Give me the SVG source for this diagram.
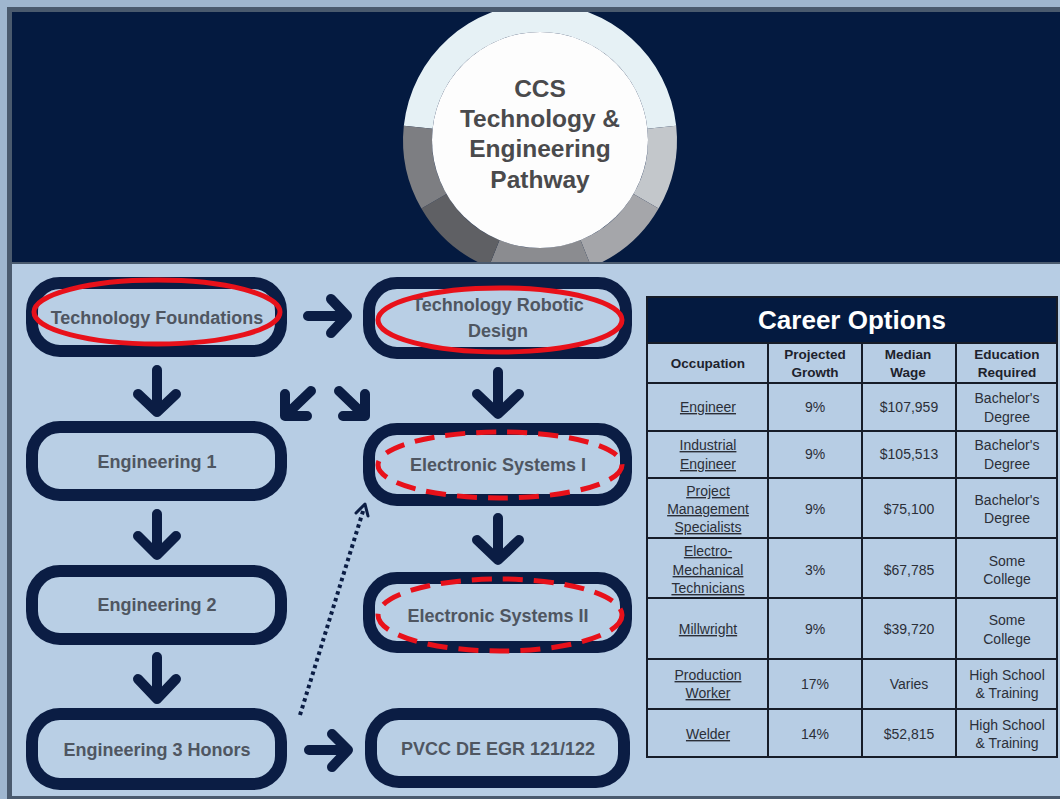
<svg xmlns="http://www.w3.org/2000/svg" width="1060" height="799" viewBox="0 0 1060 799">
<style>
.node{fill:#b9cfe5;stroke:#0b1d44;stroke-width:12}
.nt{font-family:"Liberation Sans",Arial,sans-serif;font-weight:bold;font-size:18px;fill:#4f5661;text-anchor:middle}
.arw{fill:none;stroke:#0b1d44;stroke-width:10;stroke-linecap:round;stroke-linejoin:round}
.red{fill:none;stroke:#e8111a;stroke-width:5}
.dash{stroke-dasharray:20 11}
.th{font-family:"Liberation Sans",Arial,sans-serif;font-weight:bold;font-size:13.5px;fill:#1d222c;text-anchor:middle}
.td{font-family:"Liberation Sans",Arial,sans-serif;font-size:14px;fill:#2b2f38;text-anchor:middle}
.lk{text-decoration:underline}
.grid{stroke:#161c28;stroke-width:2;fill:none}
.ct{font-family:"Liberation Sans",Arial,sans-serif;font-weight:bold;font-size:24.5px;fill:#4a4a4c;text-anchor:middle}
</style>
<defs>
<clipPath id="hdr"><rect x="12" y="12" width="1048" height="250"/></clipPath>
</defs>
<rect x="0" y="0" width="1060" height="799" fill="#9fb6cf"/>
<rect x="7" y="7" width="1053" height="792" fill="#4a5a6e"/>
<rect x="12" y="12" width="1048" height="250" fill="#041a40"/>
<rect x="12" y="264" width="1048" height="532" fill="#b7cde4"/>

<g id="title" clip-path="url(#hdr)">
<path d="M403.8,125.7 A137,137 0 0 1 676.2,125.7 L647.4,128.7 A108,108 0 0 0 432.6,128.7 Z" fill="#e6f1f5"/>
<path d="M676.2,125.7 A137,137 0 0 1 658.6,208.5 L633.5,194 A108,108 0 0 0 647.4,128.7 Z" fill="#c3c7cb"/>
<path d="M658.6,208.5 A137,137 0 0 1 591.3,267 L580.5,240.1 A108,108 0 0 0 633.5,194 Z" fill="#a5a6aa"/>
<path d="M591.3,267 A137,137 0 0 1 488.7,267 L499.5,240.1 A108,108 0 0 0 580.5,240.1 Z" fill="#8b8c90"/>
<path d="M488.7,267 A137,137 0 0 1 421.4,208.5 L446.5,194 A108,108 0 0 0 499.5,240.1 Z" fill="#5f6064"/>
<path d="M421.4,208.5 A137,137 0 0 1 403.8,125.7 L432.6,128.7 A108,108 0 0 0 446.5,194 Z" fill="#7d7e82"/>
<circle cx="540" cy="140" r="108" fill="#fdfdfd"/>
<text class="ct" x="540" y="97">CCS</text>
<text class="ct" x="540" y="127">Technology &amp;</text>
<text class="ct" x="540" y="157">Engineering</text>
<text class="ct" x="540" y="188">Pathway</text>
</g>

<g id="connectors">
<path class="arw" d="M308,316 H345 M331,299 L347,316 L331,333"/>
<path class="arw" d="M157,370 V410 M138,394 L157,412 L176,394"/>
<path class="arw" d="M311,391 L286,415 M285,394 L285,416 L307,416"/>
<path class="arw" d="M339,391 L364,415 M365,394 L365,416 L343,416"/>
<path class="arw" d="M498,372 V412 M477,394 L498,414 L519,394"/>
<path class="arw" d="M157,514 V553 M138,536 L157,555 L176,536"/>
<path class="arw" d="M498,518 V558 M477,540 L498,560 L519,540"/>
<path class="arw" d="M157,657 V698 M138,679 L157,699 L176,679"/>
<path class="arw" d="M309,750 H346 M332,734 L348,750 L332,767"/>
<path d="M300,715 L364,508" fill="none" stroke="#0b1d44" stroke-width="4" stroke-dasharray="3.5 3.5"/>
<path d="M356,513 L365,504 L368,516" fill="none" stroke="#0b1d44" stroke-width="3" stroke-linecap="round" stroke-linejoin="round"/>
</g>

<g id="n-techfound">
<rect class="node" x="32" y="283" width="249" height="68" rx="28"/>
<text class="nt" x="157" y="324">Technology Foundations</text>
<ellipse class="red" cx="157" cy="312" rx="123" ry="32"/>
</g>
<g id="n-eng1">
<rect class="node" x="32" y="427" width="249" height="68" rx="28"/>
<text class="nt" x="157" y="468">Engineering 1</text>
</g>
<g id="n-eng2">
<rect class="node" x="32" y="571" width="249" height="68" rx="28"/>
<text class="nt" x="157" y="611">Engineering 2</text>
</g>
<g id="n-eng3">
<rect class="node" x="32" y="714" width="249" height="70" rx="28"/>
<text class="nt" x="157" y="756">Engineering 3 Honors</text>
</g>
<g id="n-robotic">
<rect class="node" x="369" y="283" width="257" height="70" rx="28"/>
<text class="nt" x="498" y="311">Technology Robotic</text>
<text class="nt" x="498" y="337">Design</text>
<ellipse class="red" cx="500" cy="320" rx="122" ry="32"/>
</g>
<g id="n-es1">
<rect class="node" x="369" y="429" width="257" height="71" rx="28"/>
<text class="nt" x="498" y="471">Electronic Systems I</text>
<ellipse class="red dash" cx="500" cy="465" rx="122" ry="33"/>
</g>
<g id="n-es2">
<rect class="node" x="369" y="578" width="257" height="69" rx="28"/>
<text class="nt" x="498" y="622">Electronic Systems II</text>
<ellipse class="red dash" cx="500" cy="615" rx="122" ry="36"/>
</g>
<g id="n-pvcc">
<rect class="node" x="371" y="714" width="253" height="68" rx="28"/>
<text class="nt" x="498" y="755">PVCC DE EGR 121/122</text>
</g>

<g id="career-table">
<rect x="647" y="297" width="410" height="46" fill="#041a40"/>
<text x="852" y="329" font-family="Liberation Sans, Arial, sans-serif" font-weight="bold" font-size="26" fill="#ffffff" text-anchor="middle">Career Options</text>
<rect class="grid" x="647" y="297" width="410" height="460"/>
<path class="grid" d="M647,343 H1057 M647,383 H1057 M647,431 H1057 M647,478 H1057 M647,538 H1057 M647,598 H1057 M647,659 H1057 M647,709 H1057 M768,343 V757 M862,343 V757 M956,343 V757"/>
<text class="th" x="708" y="368">Occupation</text>
<text class="th" x="815" y="359">Projected</text><text class="th" x="815" y="377">Growth</text>
<text class="th" x="908" y="359">Median</text><text class="th" x="908" y="377">Wage</text>
<text class="th" x="1007" y="359">Education</text><text class="th" x="1007" y="377">Required</text>

<text class="td lk" x="708" y="412">Engineer</text>
<text class="td" x="815" y="412">9%</text>
<text class="td" x="909" y="412">$107,959</text>
<text class="td" x="1007" y="403">Bachelor's</text><text class="td" x="1007" y="422">Degree</text>

<text class="td lk" x="708" y="450">Industrial</text><text class="td lk" x="708" y="469">Engineer</text>
<text class="td" x="815" y="459">9%</text>
<text class="td" x="909" y="459">$105,513</text>
<text class="td" x="1007" y="450">Bachelor's</text><text class="td" x="1007" y="469">Degree</text>

<text class="td lk" x="708" y="496">Project</text><text class="td lk" x="708" y="514">Management</text><text class="td lk" x="708" y="532">Specialists</text>
<text class="td" x="815" y="514">9%</text>
<text class="td" x="909" y="514">$75,100</text>
<text class="td" x="1007" y="505">Bachelor's</text><text class="td" x="1007" y="523">Degree</text>

<text class="td lk" x="708" y="556">Electro-</text><text class="td lk" x="708" y="575">Mechanical</text><text class="td lk" x="708" y="593">Technicians</text>
<text class="td" x="815" y="575">3%</text>
<text class="td" x="909" y="575">$67,785</text>
<text class="td" x="1007" y="566">Some</text><text class="td" x="1007" y="584">College</text>

<text class="td lk" x="708" y="634">Millwright</text>
<text class="td" x="815" y="634">9%</text>
<text class="td" x="909" y="634">$39,720</text>
<text class="td" x="1007" y="625">Some</text><text class="td" x="1007" y="644">College</text>

<text class="td lk" x="708" y="680">Production</text><text class="td lk" x="708" y="698">Worker</text>
<text class="td" x="815" y="689">17%</text>
<text class="td" x="909" y="689">Varies</text>
<text class="td" x="1007" y="680">High School</text><text class="td" x="1007" y="698">&amp; Training</text>

<text class="td lk" x="708" y="739">Welder</text>
<text class="td" x="815" y="739">14%</text>
<text class="td" x="909" y="739">$52,815</text>
<text class="td" x="1007" y="730">High School</text><text class="td" x="1007" y="748">&amp; Training</text>
</g>
</svg>
